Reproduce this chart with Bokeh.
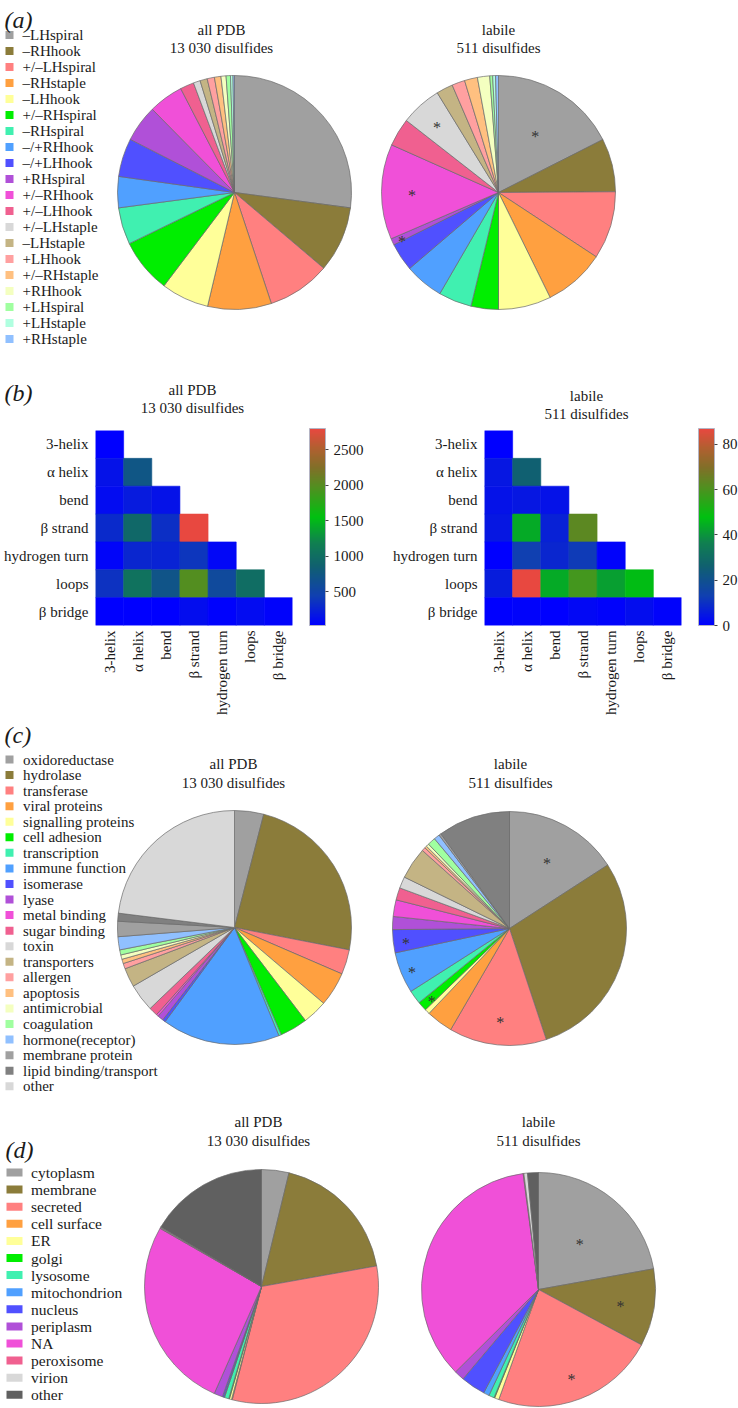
import math
import numpy as np
from bokeh.plotting import figure
from bokeh.models import (ColumnDataSource, Range1d, FactorRange, Label,
                          ColorBar, LinearColorMapper, FixedTicker)
from bokeh.layouts import column, row
from bokeh.embed import file_html
from bokeh.resources import INLINE
from bokeh.core.properties import value

# ------------------------------------------------------------------ data
A_LABELS = ["–LHspiral", "–RHhook", "+/–LHspiral", "–RHstaple", "–LHhook",
            "+/–RHspiral", "–RHspiral", "–/+RHhook", "–/+LHhook", "+RHspiral",
            "+/–RHhook", "+/–LHhook", "+/–LHstaple", "–LHstaple", "+LHhook",
            "+/–RHstaple", "+RHhook", "+LHspiral", "+LHstaple", "+RHstaple"]
A_ALL = [27.1, 9.1, 8.7, 8.8, 6.6, 7.5, 5.1, 4.3, 5.3, 5.1,
         4.8, 1.9, 0.95, 1.0, 1.0, 0.9, 0.7, 0.6, 0.35, 0.2]
A_LABILE = [17.6, 7.4, 9.4, 8.5, 7.3, 3.8, 4.6, 5.4, 3.9, 0.9,
            13.2, 3.9, 5.7, 2.3, 1.8, 1.8, 1.7, 0.4, 0.4, 0.4]
A_STARRED = ["–LHspiral", "+/–RHhook", "+RHspiral", "+/–LHstaple"]

HEAT_CATS = ["3-helix", "α helix", "bend", "β strand", "hydrogen turn", "loops", "β bridge"]
HEAT_ALL = [
    [30],
    [150, 720],
    [110, 200, 150],
    [300, 940, 330, 2800],
    [60, 280, 260, 380, 70],
    [360, 1050, 700, 1980, 570, 1000],
    [30, 25, 30, 120, 40, 110, 50],
]
HEAT_LABILE = [
    [0],
    [5, 26],
    [4, 5, 4],
    [5, 44, 7, 63],
    [0, 13, 8, 12, 1],
    [6, 87, 44, 59, 42, 47],
    [0, 1, 0, 2, 1, 3, 1],
]
TICKS_ALL = [500, 1000, 1500, 2000, 2500]
TICKS_LABILE = [0, 20, 40, 60, 80]

C_LABELS = ["oxidoreductase", "hydrolase", "transferase", "viral proteins",
            "signalling proteins", "cell adhesion", "transcription", "immune function",
            "isomerase", "lyase", "metal binding", "sugar binding", "toxin",
            "transporters", "allergen", "apoptosis", "antimicrobial", "coagulation",
            "hormone(receptor)", "membrane protein", "lipid binding/transport", "other"]
C_ALL = [4.0, 23.9, 3.4, 4.7, 3.4, 3.8, 0.35, 16.2, 0.4, 0.8, 0.3,
         1.2, 3.8, 2.6, 0.75, 0.6, 0.6, 0.7, 1.8, 2.1, 1.1, 22.9]
C_LABILE = [15.9, 29.1, 13.5, 3.7, 0.7, 1.3, 1.9, 5.7, 3.2, 1.8, 2.3,
            1.7, 1.6, 4.4, 0.5, 0.3, 0.4, 1.1, 0.8, 0.3, 10.0, 0.0]
C_STARRED = ["oxidoreductase", "transferase", "cell adhesion", "immune function", "isomerase"]

D_LABELS = ["cytoplasm", "membrane", "secreted", "cell surface", "ER", "golgi",
            "lysosome", "mitochondrion", "nucleus", "periplasm", "NA", "peroxisome",
            "virion", "other"]
D_ALL = [3.8, 18.5, 32.0, 0.1, 0.3, 0.1, 0.6, 0.1, 0.2, 1.2, 26.8, 0.1, 0.1, 16.6]
D_LABILE = [22.2, 10.7, 22.7, 0.0, 0.6, 0.1, 0.75, 0.8, 3.4, 1.4, 35.4, 0.1, 0.5, 1.5]
D_STARRED = ["cytoplasm", "membrane", "secreted"]

TITLE_ALL = ["all PDB", "13 030 disulfides"]
TITLE_LABILE = ["labile", "511 disulfides"]

# ------------------------------------------------------------------ style
SERIF = "Liberation Serif"
INK = "#1a1a1a"
W = 738
R = 117
PAL = ["#a0a0a0", "#8b7c3a", "#ff8080", "#ffa040", "#ffff99", "#00ee00", "#40f0b0",
       "#50a0ff", "#5050ff", "#b050d8", "#f050d8", "#f06090", "#d8d8d8", "#c4b484",
       "#ffa0a0", "#ffc080", "#f4ffc0", "#a0ffa0", "#b0ffe0", "#90c0ff"]
A_COLORS = PAL[:20]
C_COLORS = PAL[:18] + ["#90c0ff", "#a0a0a0", "#808080", "#d8d8d8"]
D_COLORS = PAL[:12] + ["#d8d8d8", "#606060"]
STAR_R = {"–LHspiral": 0.6, "+/–RHhook": 0.74, "+RHspiral": 0.91, "+/–LHstaple": 0.79,
          "oxidoreductase": 0.67, "transferase": 0.77, "cell adhesion": 0.89,
          "immune function": 0.9, "isomerase": 0.89,
          "cytoplasm": 0.55, "membrane": 0.71, "secreted": 0.79}

ANCHORS = [(0.0, (0, 0, 255)), (0.15, (16, 64, 176)), (0.30, (16, 96, 112)),
           (0.42, (16, 128, 80)), (0.55, (0, 192, 16)), (0.70, (80, 144, 32)),
           (0.80, (128, 112, 40)), (0.90, (176, 96, 48)), (1.0, (232, 72, 64))]


def make_palette(n=256):
    out = []
    for k in range(n):
        f = k / (n - 1)
        for (f0, c0), (f1, c1) in zip(ANCHORS[:-1], ANCHORS[1:]):
            if f0 <= f <= f1:
                t = (f - f0) / (f1 - f0)
                rgb = [int(round(a + (b - a) * t)) for a, b in zip(c0, c1)]
                out.append("#%02x%02x%02x" % tuple(rgb))
                break
    return out


HEAT_PALETTE = make_palette()


# ------------------------------------------------------------------ helpers
def canvas_fig(h, w=W):
    p = figure(width=w, height=h, x_range=Range1d(0, w), y_range=Range1d(0, h),
               output_backend="svg", toolbar_location=None, title=None,
               x_axis_location=None, y_axis_location=None, min_border=0)
    p.grid.visible = False
    p.outline_line_color = None
    return p


def add_text(p, h, x, ytop, text, size="15px", style="normal", align="center"):
    """ytop is measured from the top of the figure."""
    p.add_layout(Label(x=x, y=h - ytop, text=text, text_font=SERIF, text_font_size=size,
                       text_font_style=style, text_align=align,
                       text_baseline="middle", text_color=INK))


def draw_legend(p, h, labels, colors, x_sq, y_first, pitch, sw, sh, x_txt, size):
    n = len(labels)
    ys = [h - (y_first + i * pitch) for i in range(n)]
    src = ColumnDataSource(dict(x=[x_sq] * n, y=ys, tx=[x_txt] * n,
                                label=labels, color=colors))
    p.rect(x="x", y="y", width=sw, height=sh, fill_color="color",
           line_color=None, source=src)
    p.text(x="tx", y="y", text="label", text_font=value(SERIF),
           text_font_size=value(size), text_baseline="middle", text_align="left",
           text_color=INK, source=src)


def draw_pie(p, h, cx, cy_top, labels, values, colors, starred=()):
    cy = h - cy_top
    vals = np.array(values, dtype=float)
    frac = vals / vals.sum()
    cum = np.concatenate([[0.0], np.cumsum(frac)])
    keep = [i for i in range(len(vals)) if vals[i] > 0]
    src = ColumnDataSource(dict(
        x=[cx] * len(keep), y=[cy] * len(keep),
        label=[labels[i] for i in keep], color=[colors[i] for i in keep],
        start=[np.pi / 2 - 2 * np.pi * cum[i + 1] for i in keep],
        end=[np.pi / 2 - 2 * np.pi * cum[i] for i in keep]))
    p.wedge(x="x", y="y", radius=R, start_angle="start", end_angle="end",
            fill_color="color", line_color="#6a6a6a", line_width=0.7, source=src)
    sx, sy = [], []
    for name in starred:
        i = labels.index(name)
        mid = np.pi / 2 - 2 * np.pi * (cum[i] + frac[i] / 2)
        r = STAR_R[name] * R
        sx.append(cx + r * math.cos(mid))
        sy.append(cy + r * math.sin(mid))
    if sx:
        p.text(x=sx, y=sy, text=["*"] * len(sx), text_font=value(SERIF),
               text_font_size=value("16px"), text_align="center",
               text_baseline="middle", text_color="#333333", y_offset=4)


def pie_titles(p, h, x, y1, y2, lines):
    add_text(p, h, x, y1, lines[0])
    add_text(p, h, x, y2, lines[1])


def heat_fig(matrix, width, left, right, ticks):
    xs, ys, vs = [], [], []
    for i, rowvals in enumerate(matrix):
        for j, v in enumerate(rowvals):
            xs.append(HEAT_CATS[j])
            ys.append(HEAT_CATS[i])
            vs.append(v)
    mapper = LinearColorMapper(palette=HEAT_PALETTE, low=min(vs), high=max(vs))
    p = figure(width=width, height=292, x_range=FactorRange(*HEAT_CATS),
               y_range=FactorRange(*reversed(HEAT_CATS)), output_backend="svg",
               toolbar_location=None, title=None,
               min_border_left=left, min_border_right=right,
               min_border_top=4, min_border_bottom=91)
    src = ColumnDataSource(dict(x=xs, y=ys, v=vs))
    p.rect(x="x", y="y", width=1, height=1, source=src,
           fill_color={"field": "v", "transform": mapper},
           line_color={"field": "v", "transform": mapper}, line_width=0.6)
    p.grid.visible = False
    p.outline_line_color = None
    p.axis.axis_line_color = None
    p.axis.major_tick_line_color = None
    p.axis.minor_tick_line_color = None
    p.axis.major_tick_out = 0
    p.axis.major_tick_in = 0
    p.axis.minor_tick_out = 0
    p.axis.major_label_text_font = SERIF
    p.axis.major_label_text_font_size = "15px"
    p.axis.major_label_text_color = INK
    p.xaxis.major_label_orientation = math.pi / 2
    p.xaxis.major_label_standoff = 5
    p.yaxis.major_label_standoff = 7
    cb = ColorBar(color_mapper=mapper, location=(214, 0), width=16, height=197,
                  padding=0, margin=0, ticker=FixedTicker(ticks=ticks),
                  major_label_text_font=SERIF, major_label_text_font_size="15px",
                  major_label_text_color=INK, label_standoff=5,
                  major_tick_in=0, major_tick_out=3, major_tick_line_color="#444444",
                  minor_tick_line_color=None, bar_line_color="#b4b4c4",
                  border_line_color=None, background_fill_alpha=0)
    p.add_layout(cb, "center")
    return p


# ------------------------------------------------------------------ row (a)
HA = 348
pa = canvas_fig(HA)
add_text(pa, HA, 4, 19, "(a)", size="24px", style="italic", align="left")
draw_legend(pa, HA, A_LABELS, A_COLORS, 9, 34.5, 16, 8, 8, 22, "15px")
draw_pie(pa, HA, 234, 192, A_LABELS, A_ALL, A_COLORS)
draw_pie(pa, HA, 498, 192, A_LABELS, A_LABILE, A_COLORS, A_STARRED)
pie_titles(pa, HA, 221, 29, 47, TITLE_ALL)
pie_titles(pa, HA, 498, 29, 47, TITLE_LABILE)

# ------------------------------------------------------------------ row (b)
HB = 78
pbt = canvas_fig(HB)
add_text(pbt, HB, 4, 44, "(b)", size="24px", style="italic", align="left")
pie_titles(pbt, HB, 192, 41, 59, TITLE_ALL)
pie_titles(pbt, HB, 586, 47, 65, TITLE_LABILE)
pb1 = heat_fig(HEAT_ALL, 369, 95, 77, TICKS_ALL)
pb2 = heat_fig(HEAT_LABILE, 369, 115, 57, TICKS_LABILE)

# ------------------------------------------------------------------ row (c)
HC = 380
pc = canvas_fig(HC)
add_text(pc, HC, 4, 16, "(c)", size="24px", style="italic", align="left")
draw_legend(pc, HC, C_LABELS, C_COLORS, 9, 41, 15.56, 8, 8, 22.5, "15px")
draw_pie(pc, HC, 234, 209, C_LABELS, C_ALL, C_COLORS)
draw_pie(pc, HC, 509, 210, C_LABELS, C_LABILE, C_COLORS, C_STARRED)
pie_titles(pc, HC, 233, 45, 64, TITLE_ALL)
pie_titles(pc, HC, 510, 45, 64, TITLE_LABILE)

# ------------------------------------------------------------------ row (d)
HD = 310
pd_ = canvas_fig(HD)
add_text(pd_, HD, 5, 51, "(d)", size="24px", style="italic", align="left")
draw_legend(pd_, HD, D_LABELS, D_COLORS, 14, 74, 17.1, 16, 8, 30.5, "15.5px")
draw_pie(pd_, HD, 261, 188, D_LABELS, D_ALL, D_COLORS)
draw_pie(pd_, HD, 538, 191, D_LABELS, D_LABILE, D_COLORS, D_STARRED)
pie_titles(pd_, HD, 258, 23, 42, TITLE_ALL)
pie_titles(pd_, HD, 538, 23, 42, TITLE_LABILE)

layout = column(pa, pbt, row(pb1, pb2), pc, pd_)
open("out.html", "w").write(file_html(layout, INLINE))
